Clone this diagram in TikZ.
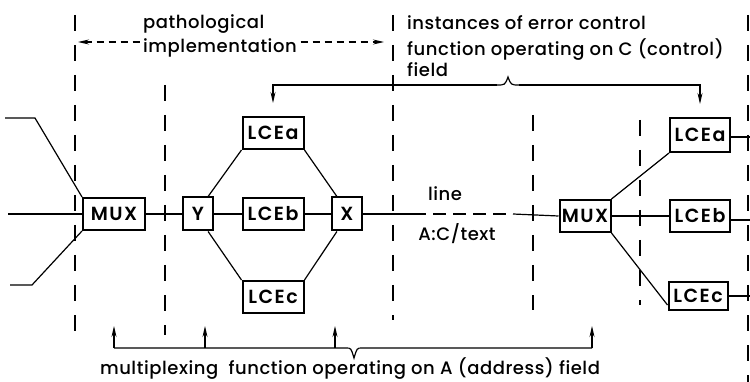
\documentclass[tikz,border=0pt]{standalone}
\usepackage{fontspec}
\setmainfont{Poppins Medium}[LetterSpace=3]
\newfontfamily\boxfont{Poppins SemiBold}[LetterSpace=8]
\usetikzlibrary{arrows.meta,calc}

\tikzset{
  blk/.style={draw, line width=2pt, inner sep=0pt, minimum height=32pt, font=\boxfont\fontsize{19}{19}\selectfont},
  wire/.style={line width=1.2pt},
  sep/.style={line width=1.6pt, dash pattern=on 16pt off 14pt},
  arr/.style={line width=1.2pt, -{Stealth[length=11pt,width=5pt]}},
  lbl/.style={font=\fontsize{18}{26}\selectfont, inner sep=0pt, align=left}
}

\begin{document}
\begin{tikzpicture}[x=1pt,y=-1pt]
\useasboundingbox (0,0) rectangle (750,382);

% vertical separators
\draw[sep] (75,15) -- (75,345);
\draw[sep] (165,85) -- (165,335);
\draw[sep] (393,15) -- (393,320);
\draw[sep] (533,115) -- (533,310);
\draw[sep] (640,120) -- (640,305);
\draw[sep] (748,15) -- (748,382);

% blocks
\node[blk, minimum width=62pt] (mux1) at (114,214) {MUX};
\node[blk, minimum width=30pt, minimum height=33pt] (yy) at (198,214) {Y};
\node[blk, minimum width=61pt] (lceb) at (273,214) {LCEb};
\node[blk, minimum width=30pt, minimum height=33pt] (xx) at (347,214) {X};
\node[blk, minimum width=61pt] (lcea) at (273,133) {LCEa};
\node[blk, minimum width=61pt] (lcec) at (273,297) {LCEc};
\node[blk, minimum width=51pt] (mux2) at (585,216) {MUX};
\node[blk, minimum width=60pt, minimum height=34pt] (lcea2) at (700,135) {LCEa};
\node[blk, minimum width=60pt] (lceb2) at (700,216) {LCEb};
\node[blk, minimum width=59pt, minimum height=28pt] (lcec2) at (698,296) {LCEc};

% incoming lines on the left
\coordinate (inA) at (5,118);
\coordinate (inAk) at (35,118);
\coordinate (inB) at (8,214);
\coordinate (inC) at (10,285);
\coordinate (inCk) at (32,285);
\draw[wire] (inA) -- (inAk) -- (mux1.north west);
\draw[wire] (inB) -- (mux1.west);
\draw[wire] (inC) -- (inCk) -- (mux1.south west);

% pathological branch
\draw[wire] (mux1) -- (yy);
\draw[wire] (yy) -- (lceb);
\draw[wire] (lceb) -- (xx);
\draw[wire] (yy.60) -- (lcea.south west);
\draw[wire] (lcea.south east) -- (xx.120);
\draw[wire] (yy.-60) -- (lcec.north west);
\draw[wire] (lcec.north east) -- (xx.-120);

% the line between X and the second MUX
\coordinate (ln1) at (413,214);
\coordinate (ln2) at (513,214);
\draw[wire] (xx.east) -- (ln1);
\draw[wire, dash pattern=on 13pt off 7pt] (ln1) -- (ln2);
\draw[wire] (ln2) -- (mux2.west);
\node[lbl, anchor=center] (linelbl) at (445,194) {line};
\node[lbl, anchor=center] (fmtlbl) at (457,234) {A:C/text};

% second MUX fan-out
\draw[wire] (mux2.north east) -- (lcea2.south west);
\draw[wire] (mux2) -- (lceb2);
\draw[wire] (mux2.south east) -- ($(lcec2.south west)+(0,-6)$);
\coordinate (outA) at (750,137);
\coordinate (outB) at (750,220);
\coordinate (outC) at (750,296);
\draw[wire] (lcea2.east |- outA) -- (outA);
\draw[wire] (lceb2.east |- outB) -- (outB);
\draw[wire] (lcec2.east |- outC) -- (outC);

% pathological implementation span
\coordinate (pl) at (78,42);
\coordinate (pr) at (384,42);
\draw[wire, dash pattern=on 7pt off 5pt, {Stealth[length=11pt,width=5pt]}-{Stealth[length=11pt,width=5pt]}] (pl) -- (pr);
\node[lbl, anchor=north west, fill=white, inner xsep=3pt, inner ysep=1pt] (path) at (140,13) {pathological\\[-2pt]implementation};

% error control brace (top)
\node[lbl, anchor=north west] (ectext) at (407,15) {instances of error control\\[0pt]function operating on C (control)\\[-5pt]field};
\coordinate (tbL) at (497,85);
\coordinate (tbR) at (519,85);
\draw[wire] (tbL) .. controls (505,85) .. (508,77) .. controls (511,85) .. (tbR);
\draw[arr, shorten >=13pt] (tbL) -| (lcea.north);
\draw[arr, shorten >=13pt] (tbR) -| (lcea2.north);

% multiplexing brace (bottom)
\coordinate (bL) at (114,348);
\coordinate (bR) at (592,348);
\coordinate (bm1) at (346,348);
\coordinate (bm2) at (362,348);
\coordinate (t1) at (114,326);
\coordinate (t2) at (205,326);
\coordinate (t3) at (335,326);
\coordinate (t4) at (592,326);
\coordinate (k2) at (205,348);
\coordinate (k3) at (335,348);
\draw[wire] (bL) -- (bm1) .. controls (351,348) .. (354,358) .. controls (357,348) .. (bm2) -- (bR);
\draw[arr] (bL) -- (t1);
\draw[arr] (k2) -- (t2);
\draw[arr] (k3) -- (t3);
\draw[arr] (bR) -- (t4);
\node[lbl, anchor=center] (mxtext) at (350,369) {multiplexing\ \ function operating on A (address) field};
\end{tikzpicture}
\end{document}
